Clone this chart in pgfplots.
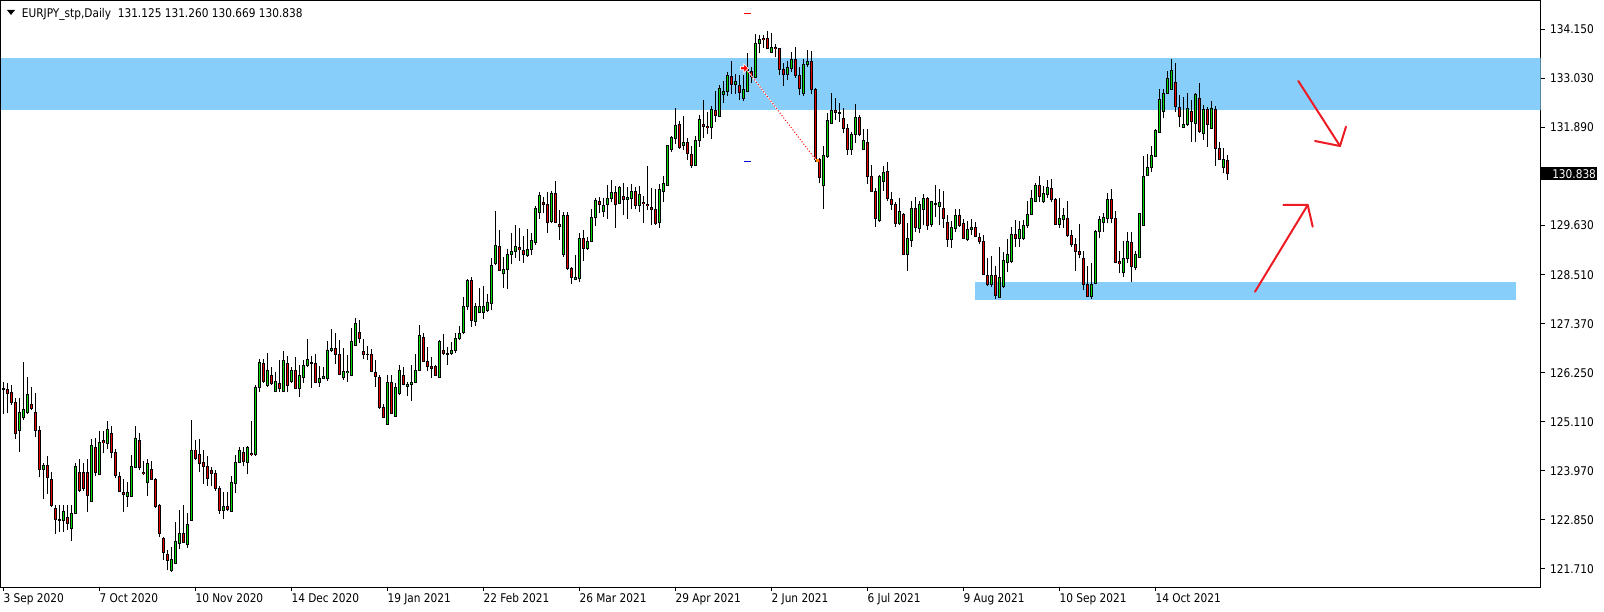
\documentclass[border=0pt]{standalone}
\usepackage{fontspec}
\setmainfont{DejaVu Sans}[FakeStretch=0.88]
\usepackage{pgfplots}
\usepackage{pgfplotstable}
\pgfplotsset{compat=1.18}
\definecolor{bandblue}{RGB}{135,206,250}
\definecolor{bull}{RGB}{0,220,0}
\definecolor{bear}{RGB}{235,0,0}
\definecolor{pen}{RGB}{237,28,36}

% daily candles, EURJPY, 3 Sep 2020 onwards (i = trading day)
\pgfplotstableread{
i o h l c
0 125.86 126.01 125.28 125.84
1 125.84 126.00 125.30 125.76
2 125.78 125.95 125.49 125.55
3 125.55 125.64 124.71 124.84
4 124.89 125.64 124.41 125.32
5 125.20 126.47 125.14 125.39
6 125.32 126.14 125.28 125.74
7 125.49 125.91 125.38 125.41
8 125.32 125.77 124.74 124.91
9 124.91 125.00 123.82 124.01
10 124.01 124.14 123.31 124.10
11 124.10 124.32 123.43 123.82
12 123.76 123.95 123.14 123.17
13 123.11 123.17 122.51 122.85
14 122.85 123.17 122.57 122.83
15 122.83 123.17 122.57 123.03
16 122.90 123.17 122.61 122.76
17 122.64 123.18 122.36 122.99
18 122.99 124.14 122.97 124.08
19 123.94 124.24 123.49 123.51
20 123.94 124.14 123.51 123.57
21 123.94 124.24 123.01 123.41
22 123.27 124.71 123.25 124.56
23 124.51 124.72 123.86 123.94
24 123.88 124.88 123.87 124.63
25 124.66 124.89 124.37 124.62
26 124.61 125.11 124.47 124.93
27 124.84 125.00 124.26 124.40
28 124.40 124.47 123.80 123.87
29 123.85 123.95 123.47 123.49
30 123.48 123.78 123.01 123.43
31 123.38 123.71 123.14 123.48
32 123.38 124.34 123.38 124.08
33 124.04 125.00 124.03 124.72
34 124.66 124.85 123.99 124.04
35 123.94 124.20 123.87 123.91
36 123.71 124.24 123.40 124.14
37 123.99 124.20 123.76 123.77
38 123.77 123.80 123.12 123.14
39 123.17 123.21 122.45 122.53
40 122.40 122.45 121.91 122.09
41 122.05 122.14 121.68 121.90
42 121.68 122.22 121.64 121.93
43 121.84 122.78 121.82 122.35
44 122.30 123.07 122.16 122.53
45 122.53 123.18 122.30 122.31
46 122.27 122.99 122.20 122.74
47 122.83 125.14 122.83 124.45
48 124.45 124.68 124.22 124.26
49 124.35 124.70 123.94 124.14
50 124.17 124.45 123.67 124.08
51 124.08 124.32 123.63 123.80
52 123.98 124.05 123.61 123.91
53 123.91 123.99 123.51 123.57
54 123.57 123.61 122.97 123.05
55 123.05 123.47 122.85 123.14
56 123.14 123.48 123.05 123.08
57 123.04 123.84 123.04 123.71
58 123.68 124.34 123.45 124.17
59 124.17 124.51 124.14 124.45
60 124.40 124.53 124.07 124.19
61 124.17 124.54 123.89 124.51
62 124.38 125.12 124.32 124.34
63 124.34 125.95 124.32 125.89
64 125.89 126.55 125.78 126.47
65 126.45 126.55 126.00 126.02
66 125.93 126.68 125.91 126.29
67 126.16 126.36 125.96 125.99
68 125.80 126.24 125.80 126.03
69 125.99 126.52 125.78 125.86
70 125.80 126.73 125.78 126.52
71 126.45 126.62 125.78 125.93
72 126.02 126.36 125.99 126.29
73 126.29 126.59 125.86 125.86
74 125.86 126.41 125.68 126.17
75 126.12 126.52 126.00 126.40
76 126.40 127.01 126.37 126.54
77 126.46 126.62 125.89 126.44
78 126.45 126.66 125.99 126.01
79 126.01 126.38 125.91 126.10
80 126.11 126.37 126.10 126.15
81 126.10 126.96 126.05 126.75
82 126.75 127.24 126.72 126.79
83 126.79 127.14 126.43 126.66
84 126.66 126.99 126.17 126.19
85 126.12 126.81 126.06 126.26
86 126.24 126.64 126.02 126.27
87 126.17 127.26 126.15 126.96
88 126.86 127.49 126.85 127.36
89 127.16 127.46 126.91 127.02
90 126.72 127.00 126.54 126.66
91 126.66 126.86 126.52 126.65
92 126.66 126.77 126.24 126.26
93 126.24 126.52 125.91 126.15
94 126.12 126.19 125.39 125.42
95 125.42 125.52 125.18 125.20
96 125.04 126.19 125.04 126.01
97 126.01 126.19 125.27 125.29
98 125.22 125.99 125.22 125.89
99 125.75 126.40 125.72 126.29
100 126.17 126.36 125.94 125.96
101 125.92 126.02 125.69 125.96
102 125.96 126.40 125.59 126.01
103 126.01 126.66 125.99 126.29
104 126.29 127.33 126.29 127.10
105 127.05 127.14 126.49 126.49
106 126.49 126.82 126.27 126.38
107 126.38 126.60 126.12 126.34
108 126.38 126.40 126.16 126.17
109 126.12 126.99 126.12 126.96
110 126.75 127.12 126.63 126.68
111 126.68 126.83 126.42 126.66
112 126.68 126.95 126.64 126.75
113 126.75 127.14 126.68 127.02
114 127.02 127.31 126.99 127.14
115 127.16 127.97 127.12 127.77
116 127.77 128.39 127.68 128.35
117 128.35 128.43 127.29 127.43
118 127.41 127.83 127.32 127.75
119 127.62 128.18 127.60 127.75
120 127.62 128.23 127.48 127.75
121 127.66 128.06 127.64 127.86
122 127.83 128.87 127.68 128.71
123 128.76 129.96 128.71 129.17
124 129.15 129.52 128.58 128.59
125 128.52 128.91 128.19 128.62
126 128.62 129.08 128.17 128.96
127 128.96 129.46 128.73 129.04
128 129.03 129.64 128.89 129.15
129 129.12 129.56 128.82 129.07
130 129.06 129.39 128.77 128.96
131 128.93 129.55 128.91 129.08
132 129.07 129.46 128.94 129.28
133 129.24 130.08 129.19 130.03
134 129.93 130.39 129.79 130.33
135 130.17 130.29 129.91 130.12
136 130.12 130.39 129.46 129.70
137 129.72 130.43 129.68 130.36
138 130.36 130.66 129.69 129.70
139 129.66 129.99 129.29 129.61
140 128.95 129.93 128.91 129.87
141 129.87 129.93 128.60 128.63
142 128.64 128.68 128.27 128.43
143 128.39 128.95 128.36 128.44
144 128.41 129.46 128.33 129.33
145 129.33 129.52 128.82 129.10
146 129.10 129.37 129.06 129.26
147 129.27 130.02 129.24 129.82
148 129.82 130.27 129.62 130.21
149 130.19 130.29 129.91 130.12
150 129.95 130.26 129.82 130.09
151 130.12 130.56 129.79 130.26
152 130.26 130.67 130.16 130.39
153 130.39 130.55 129.56 130.12
154 130.14 130.55 130.12 130.51
155 130.29 130.60 129.87 130.23
156 130.23 130.52 129.79 130.28
157 130.26 130.58 130.02 130.42
158 130.42 130.52 130.01 130.09
159 130.09 130.55 129.95 130.35
160 130.17 130.31 129.68 130.14
161 130.12 130.99 129.99 130.08
162 130.05 130.49 129.64 130.00
163 130.00 130.47 129.64 129.68
164 129.70 130.58 129.58 130.46
165 130.41 130.78 130.18 130.60
166 130.55 131.48 130.55 131.48
167 131.39 131.69 131.33 131.66
168 131.64 132.35 131.52 131.94
169 131.96 132.04 131.39 131.42
170 131.47 132.15 131.37 131.55
171 131.55 131.64 131.14 131.29
172 131.27 131.46 130.96 131.02
173 131.01 131.70 131.01 131.60
174 131.60 132.18 131.45 132.08
175 131.96 132.52 131.64 131.92
176 131.92 132.24 131.75 131.89
177 131.89 132.39 131.63 132.31
178 132.29 132.73 132.02 132.16
179 132.14 132.87 132.14 132.79
180 132.66 132.97 132.45 132.73
181 132.72 133.18 132.62 133.09
182 133.07 133.42 132.66 132.89
183 132.89 133.12 132.66 132.94
184 132.86 133.09 132.52 132.69
185 132.56 133.10 132.50 132.77
186 132.72 133.60 132.70 133.22
187 133.19 133.29 132.91 133.06
188 133.05 134.04 133.05 133.83
189 133.82 134.02 133.60 133.92
190 133.95 134.02 133.72 133.91
191 133.95 134.12 133.69 133.72
192 133.62 134.08 133.60 133.74
193 133.74 133.82 133.52 133.71
194 133.72 133.73 133.10 133.22
195 133.22 133.37 132.85 133.12
196 133.12 133.42 132.98 133.28
197 133.25 133.62 133.18 133.46
198 133.46 133.74 133.02 133.08
199 133.08 133.29 132.64 132.79
200 132.68 133.46 132.62 133.35
201 133.35 133.68 133.29 133.42
202 133.42 133.65 132.66 132.77
203 132.77 132.79 131.10 131.15
204 131.15 131.18 130.60 130.74
205 130.55 131.46 130.02 131.25
206 131.22 132.22 131.19 132.04
207 131.99 132.69 131.97 132.29
208 132.29 132.56 132.06 132.24
209 132.23 132.45 132.02 132.22
210 132.10 132.33 131.76 131.87
211 131.87 131.96 131.26 131.39
212 131.39 131.79 131.26 131.72
213 131.72 132.43 131.54 132.12
214 132.12 132.18 131.69 131.73
215 131.39 131.86 131.37 131.59
216 131.55 131.86 130.59 130.76
217 130.76 131.02 130.39 130.41
218 130.42 130.49 129.60 129.79
219 129.74 130.79 129.72 130.76
220 130.64 130.99 130.43 130.86
221 130.88 131.09 130.19 130.26
222 130.23 130.41 129.99 130.12
223 130.12 130.18 129.60 129.68
224 129.68 130.26 129.64 129.95
225 129.89 129.91 128.95 128.96
226 128.96 129.68 128.59 129.33
227 129.28 130.19 129.14 130.02
228 130.02 130.28 129.49 129.59
229 129.56 130.19 129.45 130.12
230 130.00 130.36 129.64 130.26
231 130.26 130.28 129.52 129.64
232 129.66 130.20 129.60 130.18
233 130.14 130.56 129.83 130.12
234 130.06 130.47 129.64 130.16
235 130.02 130.43 129.58 129.78
236 129.70 129.86 129.14 129.31
237 129.31 129.73 129.12 129.59
238 129.56 130.00 129.47 129.85
239 129.85 130.00 129.60 129.64
240 129.68 129.79 129.32 129.33
241 129.31 129.74 129.27 129.54
242 129.54 129.79 129.41 129.59
243 129.59 129.72 129.36 129.37
244 129.36 129.45 129.20 129.26
245 129.25 129.42 128.49 128.51
246 128.48 128.88 128.24 128.26
247 128.26 128.93 128.22 128.48
248 128.48 128.69 127.93 128.01
249 127.97 129.14 127.96 128.43
250 128.22 129.02 128.19 128.83
251 128.78 129.31 128.56 128.95
252 128.79 129.59 128.76 129.42
253 129.42 129.76 129.14 129.33
254 129.33 129.74 129.14 129.54
255 129.32 129.76 129.29 129.63
256 129.62 130.19 129.56 129.89
257 129.89 130.44 129.87 130.26
258 130.18 130.62 130.16 130.55
259 130.55 130.76 130.18 130.29
260 130.18 130.54 130.14 130.36
261 130.35 130.68 130.27 130.51
262 130.49 130.70 130.16 130.23
263 130.22 130.26 129.64 129.66
264 129.66 130.26 129.56 129.80
265 129.77 130.04 129.58 129.87
266 129.80 130.20 129.36 129.40
267 129.40 129.53 129.14 129.20
268 129.20 129.33 128.59 129.03
269 129.04 129.66 128.87 128.96
270 128.86 129.03 128.13 128.27
271 128.26 128.70 127.97 127.99
272 127.99 128.76 127.93 128.27
273 128.30 129.53 128.27 129.49
274 129.49 129.85 129.33 129.77
275 129.70 129.91 129.49 129.82
276 129.80 130.37 129.68 130.23
277 130.23 130.46 129.68 129.80
278 129.80 129.96 128.76 128.78
279 128.80 129.04 128.54 128.75
280 128.55 129.26 128.45 128.87
281 128.87 129.49 128.76 129.26
282 129.24 129.49 128.32 128.68
283 128.66 129.03 128.60 128.96
284 128.90 129.91 128.90 129.90
285 129.64 131.23 129.62 130.77
286 130.79 131.27 130.76 130.97
287 130.97 131.46 130.87 131.25
288 131.23 131.85 131.20 131.81
289 131.78 132.77 131.78 132.53
290 132.26 132.77 132.10 132.68
291 132.68 133.20 132.66 133.03
292 132.77 133.46 132.76 133.20
293 132.93 133.37 132.24 132.37
294 132.36 132.64 131.91 132.14
295 131.90 132.59 131.87 131.97
296 131.97 132.68 131.93 132.33
297 132.27 132.53 131.56 132.03
298 131.99 132.68 131.55 132.64
299 132.56 132.91 131.76 131.80
300 131.76 132.40 131.60 132.30
301 132.30 132.36 131.45 131.95
302 131.87 132.51 131.86 132.33
303 132.31 132.39 131.01 131.41
304 131.41 131.56 131.14 131.15
305 130.97 131.41 130.83 131.16
306 131.125 131.26 130.669 130.838
}\candles

\begin{document}
\begin{tikzpicture}
\useasboundingbox (0,0) rectangle (1203pt,458.25pt);
\begin{axis}[
  at={(0.375pt,17.78pt)}, anchor=south west,
  scale only axis, width=1155pt, height=440.1pt,
  xmin=-0.7, xmax=384.3, ymin=121.283, ymax=134.819,
  axis line style={line width=0.75pt},
  tick align=outside, major tick length=3pt,
  tick style={black, line width=0.75pt},
  xtick pos=bottom, ytick pos=right, yticklabel pos=right,
  tick label style={font=\fontsize{9}{10}\selectfont},
  xtick={0,24,...,288},
  xticklabels={3 Sep 2020,7 Oct 2020,10 Nov 2020,14 Dec 2020,19 Jan 2021,22 Feb 2021,26 Mar 2021,29 Apr 2021,2 Jun 2021,6 Jul 2021,9 Aug 2021,10 Sep 2021,14 Oct 2021},
  xticklabel style={anchor=north west, inner sep=0pt, xshift=0pt, yshift=-1.5pt},
  ytick={134.15,133.019,131.888,129.626,128.495,127.364,126.233,125.102,123.971,122.840,121.71},
  yticklabels={134.150,133.030,131.890,129.630,128.510,127.370,126.250,125.110,123.970,122.850,121.710},
  yticklabel style={anchor=west, inner sep=0pt, xshift=4pt},
]
% support / resistance zones
\fill[bandblue] (axis cs:-0.7,132.293) rectangle (axis cs:384.3,133.486);
\fill[bandblue] (axis cs:243.0,127.917) rectangle (axis cs:378.2,128.318);

% wicks
\addplot[draw=none, mark=none, error bars/.cd, y dir=plus, y explicit, error mark=none,
  error bar style={draw=black, line width=0.75pt}]
  table[x=i, y=l, y error plus expr=\thisrow{h}-\thisrow{l}] {\candles};
% body outline
\addplot[draw=none, mark=none, error bars/.cd, y dir=both, y explicit, error mark=none,
  error bar style={draw=black, line width=2.4pt}]
  table[x=i, y expr=(\thisrow{o}+\thisrow{c})/2,
        y error expr={abs(\thisrow{o}-\thisrow{c})/2+0.0115}] {\candles};
% bull bodies
\addplot[draw=none, mark=none, error bars/.cd, y dir=both, y explicit, error mark=none,
  error bar style={draw=bull, line width=1.2pt}]
  table[x=i, y expr={\thisrow{c}>=\thisrow{o} ? (\thisrow{o}+\thisrow{c})/2 : nan},
        y error expr={max(abs(\thisrow{o}-\thisrow{c})/2-0.0115,0)}] {\candles};
% bear bodies
\addplot[draw=none, mark=none, error bars/.cd, y dir=both, y explicit, error mark=none,
  error bar style={draw=bear, line width=1.2pt}]
  table[x=i, y expr={\thisrow{c}<\thisrow{o} ? (\thisrow{o}+\thisrow{c})/2 : nan},
        y error expr={max(abs(\thisrow{o}-\thisrow{c})/2-0.0115,0)}] {\candles};
\end{axis}

% annotations, in screen pixels from the top left corner
\begin{scope}[shift={(0pt,458.25pt)}, x=0.75pt, y=-0.75pt]
  \draw[white, line width=0.75pt] (747,70) -- (816,160);
  \draw[red, line width=0.75pt, dash pattern=on 0.75pt off 1.5pt] (747,70) -- (816,160);
  \fill[orange] (815.5,159) rectangle (818.5,162);
  \filldraw[red, draw=white, line width=0.5pt] (740.5,66.8) -- (743.8,66.8) -- (743.8,63.8)
    -- (748.3,68.3) -- (743.8,72.8) -- (743.8,69.8) -- (740.5,69.8) -- cycle;
  \draw[red, line width=0.9pt] (743.5,13.3) -- (751,13.3);
  \draw[blue!85!black, line width=0.9pt] (743.5,161.3) -- (751,161.3);

  \begin{scope}[pen, line width=1.5pt, line cap=round, line join=round]
    \draw (1298.3,81) -- (1340,146);
    \draw (1315,141) -- (1340,146) -- (1346,126.7);
    \draw (1255,291.7) -- (1307.7,205);
    \draw (1283.3,205) -- (1307.7,205) -- (1312.7,226.7);
  \end{scope}

  \fill (7,10) -- (15,10) -- (11,15) -- cycle;
  \node[anchor=base west, inner sep=0pt, font=\fontsize{9}{10}\selectfont]
    at (21.7,17.3) {EURJPY\_stp,Daily\ \ 131.125 131.260 130.669 130.838};

  \fill[black] (1541,167.5) rectangle (1597,180);
  \node[white, anchor=west, inner sep=0pt, font=\fontsize{9}{10}\selectfont]
    at (1552,173.8) {130.838};
\end{scope}
\end{tikzpicture}
\end{document}
